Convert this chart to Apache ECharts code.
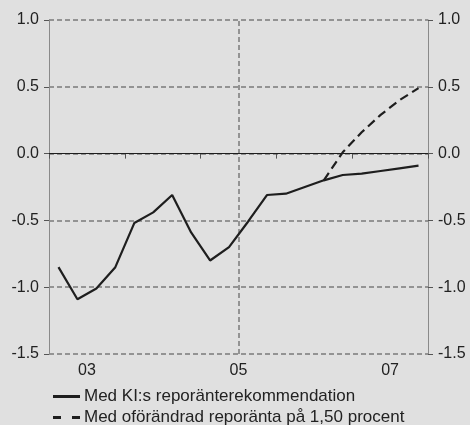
<!DOCTYPE html>
<html lang="sv">
<head>
    <meta charset="UTF-8">
    <title>Reporänta</title>
    <style>
        html, body { margin: 0; padding: 0; background: #e0e0e0; }
        #main { width: 470px; height: 425px; }
    </style>
</head>
<body>
<div id="main"></div>
<script src="https://cdn.jsdelivr.net/npm/echarts@6/dist/echarts.min.js"></script>
<script>
    // kvartal 2003Q1 - 2007Q4
    const quarters = ['2003Q1','2003Q2','2003Q3','2003Q4','2004Q1','2004Q2','2004Q3','2004Q4',
        '2005Q1','2005Q2','2005Q3','2005Q4','2006Q1','2006Q2','2006Q3','2006Q4',
        '2007Q1','2007Q2','2007Q3','2007Q4'];
    const kiValues = [-0.85, -1.09, -1.01, -0.85, -0.52, -0.44, -0.31, -0.59,
        -0.80, -0.70, -0.51, -0.31, -0.30, -0.25, -0.20, -0.16,
        -0.15, -0.13, -0.11, -0.09];
    // oförändrad reporänta, från 2006Q3
    const fixedStart = 14;
    const fixedValues = [-0.20, 0.01, 0.16, 0.29, 0.40, 0.49];
    const yearLabels = ['03', '05', '07'];
    const yearLabelPos = [0.5, 2.5, 4.5];
    const names = ['Med KI:s reporänterekommendation', 'Med oförändrad reporänta på 1,50 procent'];

    // x = år sedan 2003 + mitten av kvartalet
    function qx(q) {
        const y = +q.slice(0, 4), k = +q.slice(5);
        return (y - 2003) + (k - 0.5) / 4;
    }

    const kiData = quarters.map((q, i) => [qx(q), kiValues[i]]);
    const fixedData = fixedValues.map((v, i) => [qx(quarters[fixedStart + i]), v]);

    const font = 'Liberation Sans, Arial, sans-serif';
    const gridColor = '#7a7a7a';

    const yAxisBase = {
        type: 'value',
        min: -1.5,
        max: 1.0,
        interval: 0.5,
        axisLine: { show: true, lineStyle: { color: '#8a8a8a', width: 1 } },
        axisTick: { show: true, length: 5, lineStyle: { color: '#555' } },
        axisLabel: {
            color: '#222', fontSize: 16, fontFamily: font, margin: 10,
            formatter: v => v.toFixed(1)
        }
    };

    // en legend per rad
    function legendRow(name, icon, top) {
        return {
            left: 53,
            top: top,
            padding: 0,
            itemWidth: 27,
            itemHeight: 3,
            itemGap: 0,
            symbolKeepAspect: false,
            icon: icon,
            itemStyle: { color: '#1e1e1e', borderWidth: 0 },
            textStyle: { color: '#222', fontSize: 17, fontFamily: font, padding: [0, 0, 0, -1] },
            data: [name]
        };
    }

    const myChart = echarts.init(document.getElementById('main'));
    const option = {
        backgroundColor: '#e0e0e0',
        animation: false,
        grid: { left: 49, right: 42, top: 20, bottom: 71 },
        legend: [
            legendRow(names[0], 'path://M0,0H27V2.5H0Z', 388),
            legendRow(names[1], 'path://M0,0H8V3H0Z M19,0H27V3H19Z', 409)
        ],
        xAxis: {
            type: 'value',
            min: 0,
            max: 5,
            interval: 1,
            axisLine: { show: false },
            axisTick: {
                show: true, length: 5, inside: false,
                customValues: [0, 1, 2, 3, 4, 5],
                lineStyle: { color: '#555' }
            },
            axisLabel: {
                color: '#222', fontSize: 16, fontFamily: font, margin: 9,
                customValues: yearLabelPos,
                formatter: v => yearLabels[yearLabelPos.indexOf(v)]
            },
            splitLine: { show: false }
        },
        yAxis: [
            Object.assign({}, yAxisBase, {
                position: 'left',
                splitLine: { show: true, lineStyle: { color: gridColor, type: [5, 3], width: 1.5 } }
            }),
            Object.assign({}, yAxisBase, {
                position: 'right',
                splitLine: { show: false }
            })
        ],
        series: [
            {
                name: names[0],
                type: 'line',
                data: kiData,
                symbol: 'none',
                lineStyle: { color: '#1e1e1e', width: 2.2 },
                itemStyle: { color: '#1e1e1e' },
                z: 5,
                markLine: {
                    silent: true,
                    symbol: 'none',
                    label: { show: false },
                    data: [
                        { xAxis: 2.5, lineStyle: { color: gridColor, type: [5, 3], width: 1.5 } },
                        { yAxis: 0, lineStyle: { color: '#1e1e1e', type: 'solid', width: 1 } }
                    ]
                }
            },
            {
                name: names[1],
                type: 'line',
                data: fixedData,
                symbol: 'none',
                lineStyle: { color: '#1e1e1e', width: 2.2, type: [9, 5] },
                itemStyle: { color: '#1e1e1e' },
                z: 5
            }
        ]
    };
    myChart.setOption(option);
</script>
</body>
</html>
